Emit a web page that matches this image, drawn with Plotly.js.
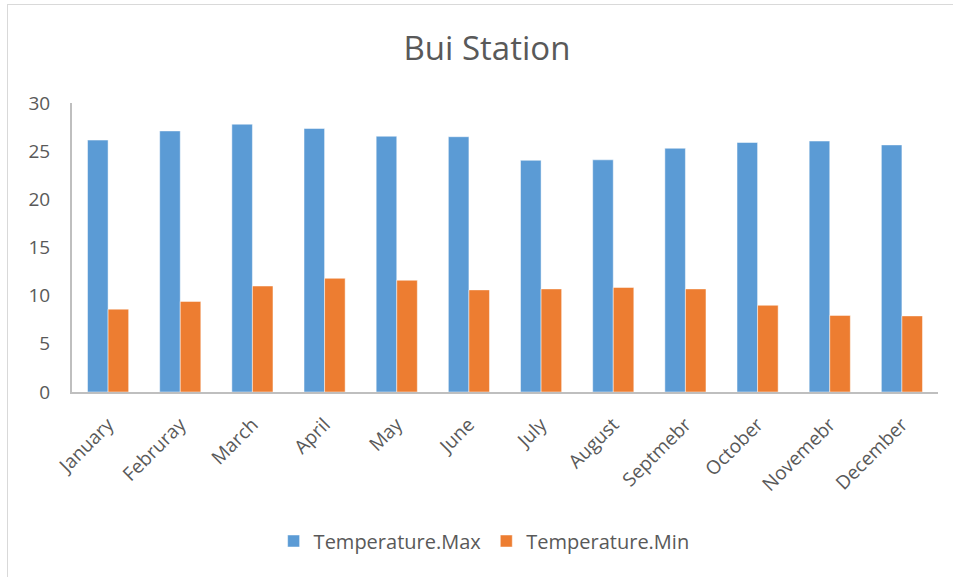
<!DOCTYPE html>
<html>
<head>
<meta charset="utf-8">
<script src="https://cdn.plot.ly/plotly-3.0.1.min.js"></script>
<style>
html,body{margin:0;padding:0;background:#fff;overflow:hidden;}
#chart{width:953px;height:577px;}
#frame{position:absolute;left:7px;top:4px;width:980px;height:600px;border:1px solid #d9d9d9;pointer-events:none;}
</style>
</head>
<body>
<div id="chart"></div>
<div id="frame"></div>
<script>
const months = ["January","Februray","March","April","May","June","July","August","Septmebr","October","Novemebr","December"];
const tempMax = [26.15, 27.1, 27.8, 27.35, 26.55, 26.5, 24.05, 24.1, 25.3, 25.9, 26.05, 25.65];
const tempMin = [8.6, 9.4, 11.0, 11.8, 11.6, 10.6, 10.7, 10.85, 10.7, 9.0, 7.95, 7.9];

const font = "'Open Sans', 'Noto Sans', sans-serif";
const traces = [
  {type:"bar", name:"Temperature.Max", x:months, y:tempMax,
   marker:{color:"#5B9BD5", line:{color:"rgba(255,255,255,0.6)", width:0.8}}},
  {type:"bar", name:"Temperature.Min", x:months, y:tempMin,
   marker:{color:"#ED7D31", line:{color:"rgba(255,255,255,0.6)", width:0.8}}}
];
const layout = {
  width:953, height:577,
  margin:{l:72, r:15, t:103, b:185},
  paper_bgcolor:"#fff", plot_bgcolor:"#fff",
  font:{family:font, color:"#595959", size:17},
  title:{text:"Bui Station", font:{family:font, size:33, color:"#595959"},
         x:0.511, xref:"container", xanchor:"center", y:1-48/577, yref:"container", yanchor:"middle"},
  barmode:"group", bargap:0.43, bargroupgap:0,
  xaxis:{showline:true, linecolor:"#bfbfbf", linewidth:2, tickangle:-45, ticks:"",
         ticklabelstandoff:12,
         tickfont:{size:19, color:"#595959"}, showgrid:false, zeroline:false},
  yaxis:{range:[0,30], dtick:5, showline:true, linecolor:"#bfbfbf", linewidth:2,
         ticklabelstandoff:16,
         showgrid:false, zeroline:false, ticks:"", ticklen:0, tickfont:{size:19, color:"#595959"}},
  showlegend:true,
  legend:{orientation:"h", x:0.508, xref:"container", xanchor:"center",
          y:1-541/577, yref:"container", yanchor:"middle",
          font:{size:20, color:"#595959"}, itemwidth:30, traceorder:"normal"}
};
Plotly.newPlot("chart", traces, layout, {displayModeBar:false, staticPlot:true});
</script>
</body>
</html>
